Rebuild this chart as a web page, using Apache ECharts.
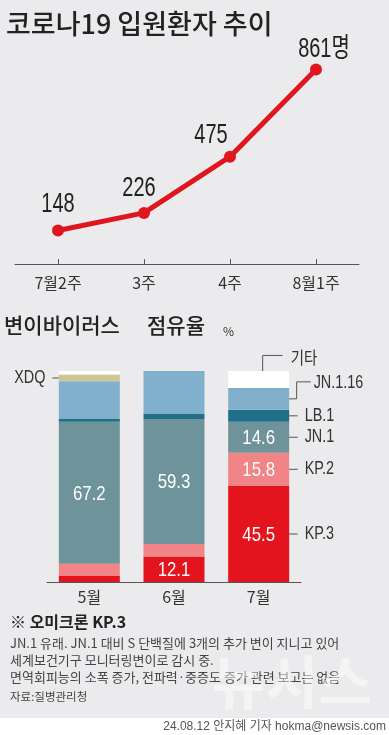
<!DOCTYPE html>
<html><head><meta charset="utf-8">
<script src="https://cdn.jsdelivr.net/npm/echarts@6/dist/echarts.min.js"></script>
<style>html,body{margin:0;padding:0;background:#ebebed;}#c{width:389px;height:735px;}</style>
</head><body><div id="c"></div>
<script>
// ---- data ----
const weekCats = ['7월2주', '3주', '4주', '8월1주'];
const inpatients = [148, 226, 475, 861];
const monthCats = ['5월', '6월', '7월'];
const kp3 = [2.9, 12.1, 45.5];
const kp2 = [5.8, 5.9, 15.8];
const jn1 = [67.2, 59.3, 14.6];
const lb1 = [1.6, 2.5, 5.7];
const jn116 = [17.6, 20.2, 10.4];
const xdq = [3.2, 0, 0];
const etc = [1.7, 0, 8.0];
const variantNames = ['KP.3', 'KP.2', 'JN.1', 'LB.1', 'JN.1.16', 'XDQ', '기타'];
const variantData = [kp3, kp2, jn1, lb1, jn116, xdq, etc];

// ---- styles ----
const LAT = '"Liberation Sans", "Noto Sans CJK KR", sans-serif';
const KR = '"Noto Sans CJK KR", sans-serif';
const variantColors = ['#e3141d', '#f08486', '#6f939a', '#1f6f88', '#80b0cc', '#cfc697', '#ffffff'];
const labelled = [true, true, true, false, false, false, false];
const pointLabelOffsets = [[0, -26], [-5, -24], [-19, -21], [8, -20]];

const chart = echarts.init(document.getElementById('c'), null, {renderer: 'canvas'});

const barSeries = variantNames.map((name, i) => ({
  name: name,
  type: 'bar',
  stack: 'share',
  xAxisIndex: 1, yAxisIndex: 1,
  barWidth: 61,
  itemStyle: {color: variantColors[i]},
  data: variantData[i],
  silent: true
}));

chart.setOption({
  backgroundColor: '#ebebed',
  animation: false,
  grid: [
    {left: 15, width: 344, top: 38, height: 226},
    {left: 47, width: 254, top: 371, height: 211}
  ],
  xAxis: [
    {gridIndex: 0, type: 'category', data: weekCats, boundaryGap: true,
      axisLine: {lineStyle: {color: '#555', width: 1}},
      axisTick: {show: true, inside: true, length: 5, alignWithLabel: true, lineStyle: {color: '#555'}},
      axisLabel: {color: '#333', fontFamily: KR, fontSize: 16, margin: 11}},
    {gridIndex: 1, type: 'category', data: monthCats, boundaryGap: true,
      axisLine: {lineStyle: {color: '#555', width: 1}},
      axisTick: {show: false},
      axisLabel: {color: '#333', fontFamily: KR, fontSize: 16, margin: 7}}
  ],
  yAxis: [
    {gridIndex: 0, type: 'value', min: 0, max: 1000, show: false},
    {gridIndex: 1, type: 'value', min: 0, max: 100, show: false}
  ],
  series: [
    {
      type: 'line', xAxisIndex: 0, yAxisIndex: 0,
      data: inpatients,
      lineStyle: {color: '#e0161e', width: 5},
      itemStyle: {color: '#e0161e'},
      symbol: 'circle', symbolSize: 12,
      silent: true
    }
  ].concat(barSeries)
});

// ---- annotations (positions derived from data via axes) ----
function px(cat, val) { return chart.convertToPixel({xAxisIndex: 1, yAxisIndex: 1}, [cat, val]); }
function segMid(seriesIdx, cat) {
  let base = 0;
  for (let k = 0; k < seriesIdx; k++) base += variantData[k][cat];
  return base + variantData[seriesIdx][cat] / 2;
}
const g = [];
const lineStyle = {stroke: '#555', lineWidth: 1, fill: null};
function txt(text, x, y, font, fill, align, sx) {
  g.push({type: 'text', x: x, y: y, scaleX: sx || 1, originX: 0, originY: 0, silent: true, z: 50,
    style: {text: text, x: 0, y: 0, font: font, fill: fill, align: align || 'left', verticalAlign: 'middle'}});
}
const NS = 0.8; // narrow scale

// line point labels
inpatients.forEach((v, i) => {
  const p = chart.convertToPixel({xAxisIndex: 0, yAxisIndex: 0}, [i, v]);
  const t = i === inpatients.length - 1 ? v + '명' : String(v);
  txt(t, p[0] + pointLabelOffsets[i][0], p[1] + pointLabelOffsets[i][1], '27px ' + LAT, '#222', 'center', 0.74);
});

// in-bar value labels
variantData.forEach((arr, i) => {
  if (!labelled[i]) return;
  arr.forEach((v, c) => {
    if (v < 10) return;
    const p = px(c, segMid(i, c));
    txt(v.toFixed(1), p[0], p[1] + 1, '21px ' + LAT, '#fff', 'center', NS);
  });
});

const annFont = '18px ' + LAT;
const cx7 = px(2, 0)[0];
// KP.3, KP.2, JN.1, LB.1 straight leaders
[0, 1, 2, 3].forEach(i => {
  const y = px(2, segMid(i, 2))[1];
  g.push({type: 'polyline', silent: true, shape: {points: [[cx7 + 23, y], [cx7 + 39, y]]}, style: lineStyle});
  txt(variantNames[i], cx7 + 46, y, annFont, '#333', 'left', NS);
});
// JN.1.16 elbow
{
  const y = px(2, segMid(4, 2))[1];
  g.push({type: 'polyline', silent: true, shape: {points: [[cx7 + 16, y], [cx7 + 38, y], [cx7 + 38, y - 17], [cx7 + 52, y - 17]]}, style: lineStyle});
  txt(variantNames[4], cx7 + 55, y - 16, annFont, '#333', 'left', NS);
}
// 기타 elbow
{
  const y = px(2, segMid(6, 2))[1];
  g.push({type: 'polyline', silent: true, shape: {points: [[cx7 + 4, y - 3], [cx7 + 4, y - 24], [cx7 + 24, y - 24]]}, style: lineStyle});
  txt(variantNames[6], cx7 + 32, y - 22, '17px ' + KR, '#333', 'left', 0.85);
}
// XDQ on left of 5월
{
  const c5 = px(0, 0)[0];
  const y = px(0, segMid(5, 0))[1];
  g.push({type: 'polyline', silent: true, shape: {points: [[c5 - 37, y], [c5 - 26, y]]}, style: lineStyle});
  txt(variantNames[5], c5 - 44, y, annFont, '#333', 'right', NS);
}

// titles & notes
txt('코로나19 입원환자 추이', 6, 24, '500 27px ' + KR, '#222');
txt('변이바이러스', 4, 325, '500 21px ' + KR, '#222');
txt('점유율', 147, 325, '500 21px ' + KR, '#222');
txt('%', 223, 331, '12px ' + KR, '#333');
txt('※ 오미크론 KP.3', 10, 622, 'bold 16px ' + KR, '#222');
txt('JN.1 유래. JN.1 대비 S 단백질에 3개의 추가 변이 지니고 있어', 10, 643, '13px ' + KR, '#444');
txt('세계보건기구 모니터링변이로 감시 중.', 10, 660, '13px ' + KR, '#444');
txt('면역회피능의 소폭 증가, 전파력·중증도 증가 관련 보고는 없음', 10, 677, '13px ' + KR, '#444');
txt('자료:질병관리청', 10, 697, '11.5px ' + KR, '#444');
g.push({type: 'text', x: 212, y: 682, silent: true, z: 100,
  style: {text: '뉴시스', font: 'bold 58px ' + KR, fill: 'rgba(255,255,255,0.45)', align: 'left', verticalAlign: 'middle'}});
g.push({type: 'rect', silent: true, shape: {x: 0, y: 718, width: 389, height: 17}, style: {fill: '#ffffff'}});
txt('24.08.12 안지혜 기자 hokma@newsis.com', 386, 727, '12px ' + LAT, '#555', 'right');

chart.setOption({graphic: g});
</script>
</body></html>
